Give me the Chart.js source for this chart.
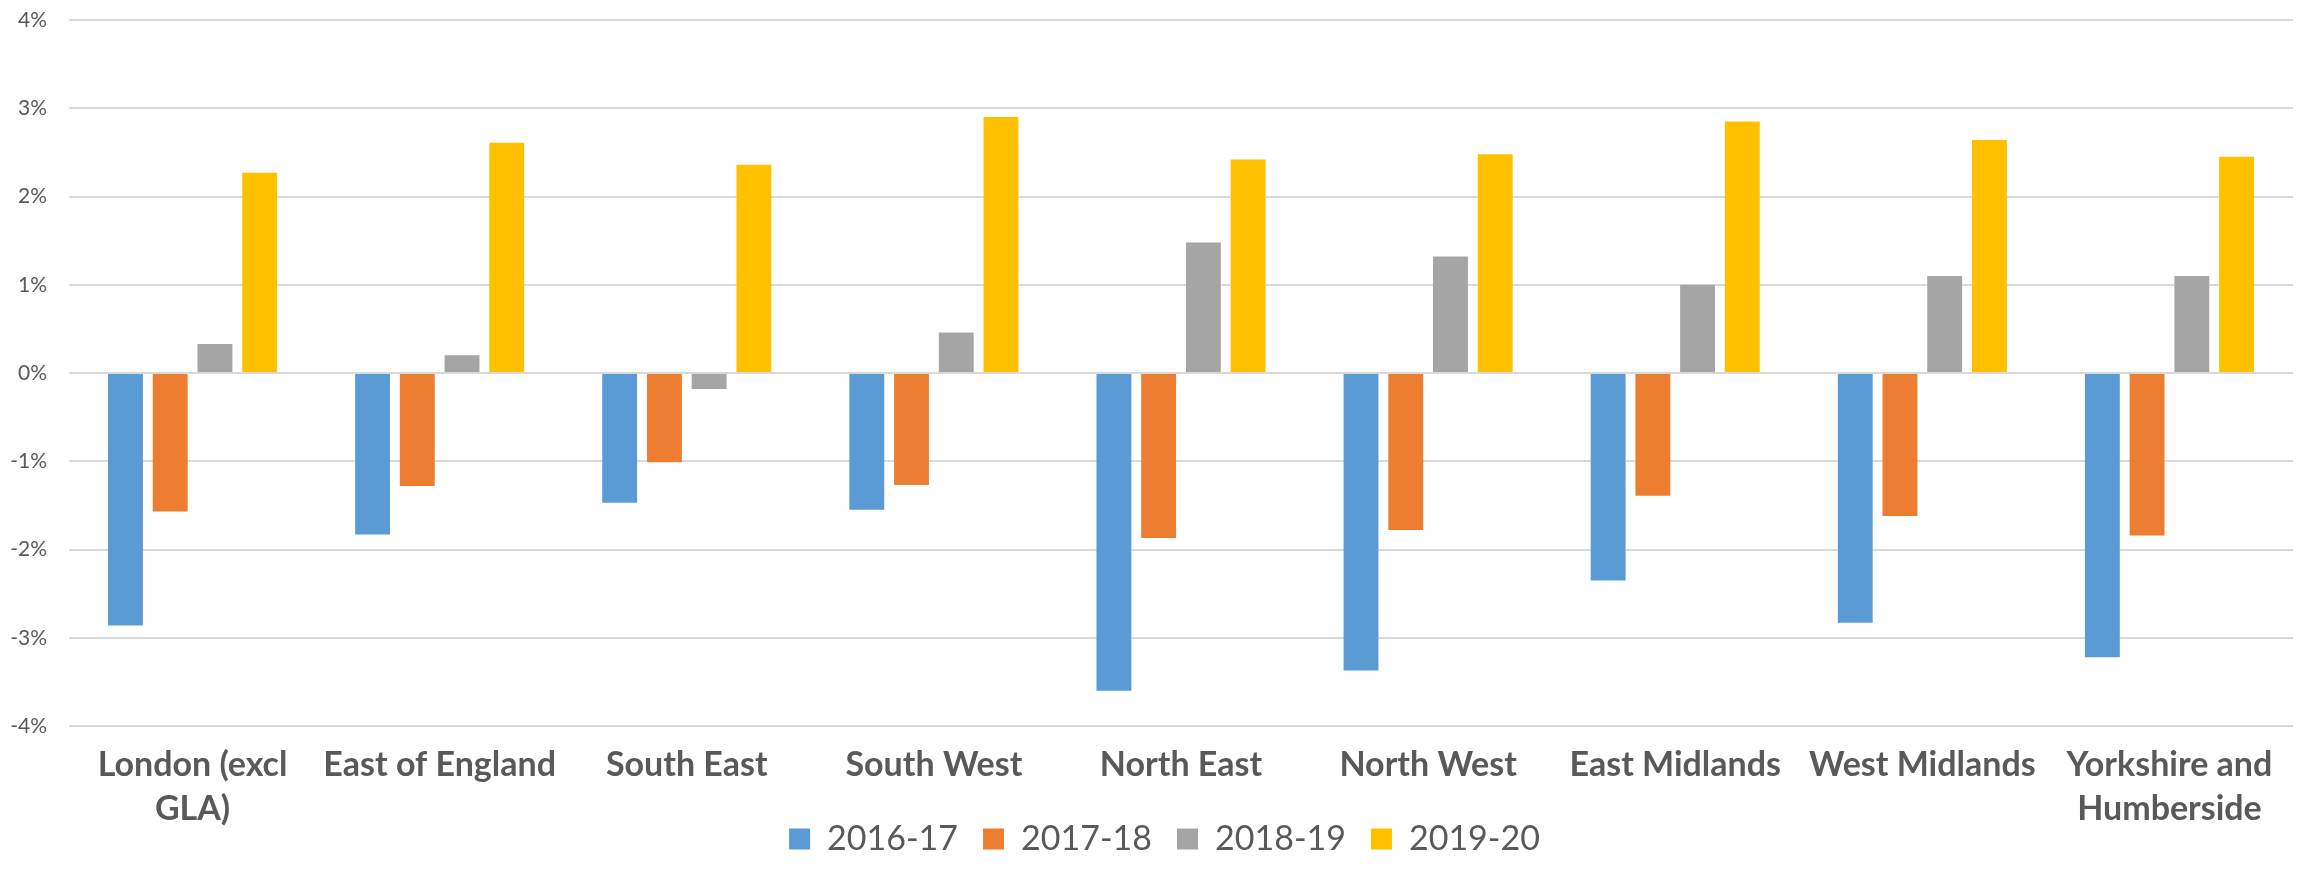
<!DOCTYPE html>
<html>
<head>
<meta charset="utf-8">
<script src="https://cdn.jsdelivr.net/npm/chart.js@4"></script>
<style>
  html, body { margin: 0; padding: 0; background: #ffffff; }
  #wrap { width: 2305px; height: 891px; }
</style>
</head>
<body>
<div id="wrap"><canvas id="c" width="2305" height="891"></canvas></div>
<script>
const categories = [
  ["London (excl", "GLA)"],
  "East of England",
  "South East",
  "South West",
  "North East",
  "North West",
  "East Midlands",
  "West Midlands",
  ["Yorkshire and", "Humberside"]
];
const seriesNames = ["2016-17", "2017-18", "2018-19", "2019-20"];
const values2016 = [-2.86, -1.83, -1.47, -1.55, -3.60, -3.37, -2.35, -2.83, -3.22];
const values2017 = [-1.57, -1.28, -1.01, -1.27, -1.87, -1.78, -1.39, -1.62, -1.84];
const values2018 = [0.33, 0.20, -0.18, 0.46, 1.48, 1.32, 1.00, 1.10, 1.10];
const values2019 = [2.27, 2.61, 2.36, 2.90, 2.42, 2.48, 2.85, 2.64, 2.45];
const yTicks = [-4, -3, -2, -1, 0, 1, 2, 3, 4];
const colors = ["#5B9BD5", "#ED7D31", "#A5A5A5", "#FFC000"];

const allValues = [values2016, values2017, values2018, values2019];
const datasets = seriesNames.map((name, i) => ({
  label: name,
  data: allValues[i],
  backgroundColor: colors[i],
  borderWidth: 0,
  categoryPercentage: 0.724,
  barPercentage: 0.78
}));

// shift the centred legend slightly right, as in the original layout
const legendShift = {
  id: 'legendShift',
  afterLayout(chart) {
    if (chart.legend) {
      chart.legend.left += 18;
      chart.legend.right += 18;
    }
  }
};

new Chart(document.getElementById('c'), {
  type: 'bar',
  data: { labels: categories, datasets },
  plugins: [legendShift],
  options: {
    responsive: false,
    animation: false,
    devicePixelRatio: 1,
    layout: { padding: { top: 20, right: 12, left: 0, bottom: 25 } },
    plugins: {
      tooltip: { enabled: false },
      legend: {
        position: 'bottom',
        labels: {
          color: '#595959',
          font: { family: 'Lato', size: 34 },
          boxWidth: 21,
          boxHeight: 21,
          padding: 25
        }
      }
    },
    scales: {
      x: {
        grid: { display: false, drawTicks: false },
        border: { display: false },
        ticks: {
          color: '#595959',
          font: { family: 'Lato', size: 34, weight: 'bold', lineHeight: 1.29 },
          padding: 17,
          maxRotation: 0,
          autoSkip: false
        },
        afterFit: (s) => {
          s.height = 71;
          s._computeLabelArea = () => undefined;
        }
      },
      y: {
        min: -4,
        max: 4,
        afterBuildTicks: (s) => { s.ticks = yTicks.map(v => ({ value: v })); },
        grid: { color: '#D9D9D9', lineWidth: 2, drawTicks: true, tickLength: 18, tickColor: 'rgba(0,0,0,0)' },
        border: { display: false },
        ticks: {
          color: '#595959',
          font: { family: 'Lato', size: 21 },
          padding: 4,
          callback: (v) => v + '%'
        },
        afterFit: (s) => { s.width = 69; }
      }
    }
  }
});
</script>
</body>
</html>
